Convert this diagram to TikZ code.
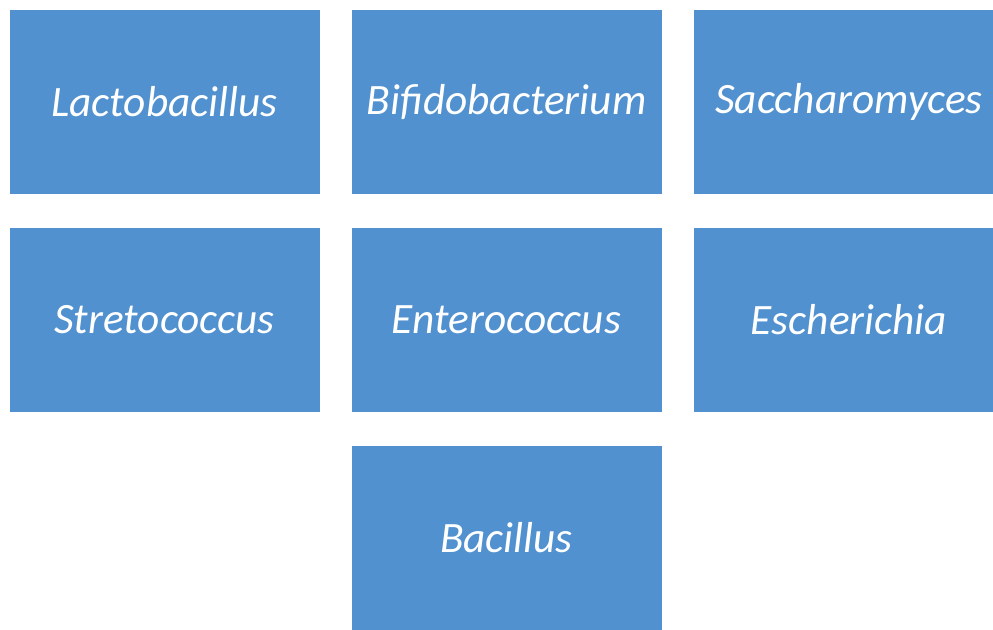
\documentclass[tikz,border=0pt]{standalone}
\usepackage{fontspec}
\setmainfont{Carlito}
\usetikzlibrary{positioning}
\definecolor{tileblue}{HTML}{5191CF}
\tikzset{
  genus/.style={fill=tileblue, draw=none, text=white, minimum width=310*0.75pt,
    minimum height=184*0.75pt, inner sep=0pt,
    font=\fontsize{32.5}{38}\selectfont\itshape}
}

\begin{document}
\begin{tikzpicture}[x=0.75pt, y=-0.75pt]
  \useasboundingbox (0,0) rectangle (993,629);
  % first row
  \node[genus] (lacto)  at (164.5,102) {Lactobacillus};
  \node[genus] (bifido) at (506.5,102) {Bifidobacterium};
  \node[genus] (sacch)  at (849,102)   {Saccharomyces};
  % second row
  \node[genus] (strep)  at (164.5,320) {Stretococcus};
  \node[genus] (entero) at (506.5,320) {Enterococcus};
  \node[genus] (esch)   at (849,320)   {Escherichia};
  % last one
  \node[genus] (bacil)  at (506.5,538) {Bacillus};
\end{tikzpicture}
\end{document}
